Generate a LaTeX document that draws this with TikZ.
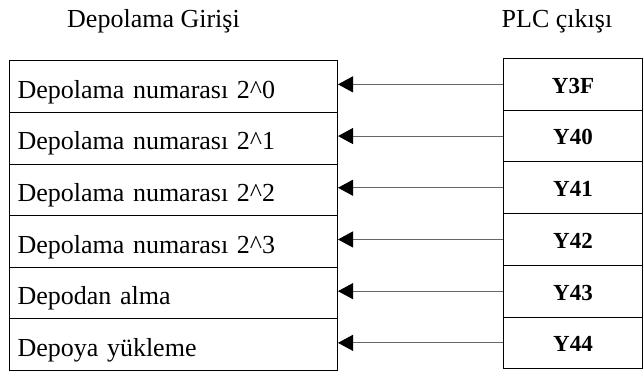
\documentclass[tikz,border=0pt]{standalone}
\usepackage{fontspec}
\setmainfont{Liberation Serif}
\usetikzlibrary{arrows.meta}

\begin{document}
\begin{tikzpicture}[x=1pt, y=-1pt,
    girisrow/.style={draw, line width=1pt, anchor=north west,
      text width=312pt, inner xsep=8pt, inner ysep=0pt, align=left,
      minimum height=51.6pt, text height=37.4pt, text depth=14.2pt,
      font=\fontsize{26}{30}\selectfont},
    cikisrow/.style={draw, line width=1pt, anchor=north west,
      minimum width=139pt, minimum height=51.7pt, inner sep=0pt,
      text height=34.7pt, text depth=17pt,
      font=\fontsize{23}{27}\selectfont\bfseries},
    baslik/.style={anchor=base, font=\fontsize{26}{30}\selectfont},
    ok/.style={draw=black!60, line width=0.9pt,
      -{Triangle[length=15pt,width=16pt,color=black]}}]
      \useasboundingbox (0,0) rectangle (643,373);

      % Headings
      \node[baslik] (giris) at (153.5,27) {Depolama Girişi};
      \node[baslik] (plc) at (557,27) {PLC çıkışı};

      % Storage inputs
      \node[girisrow] (num0) at (9,60.3) {Depolama numarası 2\^{}0};
      \node[girisrow] (num1) at (9,111.9) {Depolama numarası 2\^{}1};
      \node[girisrow] (num2) at (9,163.5) {Depolama numarası 2\^{}2};
      \node[girisrow] (num3) at (9,215.1) {Depolama numarası 2\^{}3};
      \node[girisrow] (alma) at (9,266.7) {Depodan alma};
      \node[girisrow] (yukleme) at (9,318.3) {Depoya yükleme};

      % PLC outputs
      \node[cikisrow] (y3f) at (503,58) {Y3F};
      \node[cikisrow] (y40) at (503,109.7) {Y40};
      \node[cikisrow] (y41) at (503,161.4) {Y41};
      \node[cikisrow] (y42) at (503,213.1) {Y42};
      \node[cikisrow] (y43) at (503,264.8) {Y43};
      \node[cikisrow] (y44) at (503,316.5) {Y44};

      % Output to input arrows
      \draw[ok] (y3f.west) -- (y3f.west -| num0.east);
      \draw[ok] (y40.west) -- (y40.west -| num1.east);
      \draw[ok] (y41.west) -- (y41.west -| num2.east);
      \draw[ok] (y42.west) -- (y42.west -| num3.east);
      \draw[ok] (y43.west) -- (y43.west -| alma.east);
      \draw[ok] (y44.west) -- (y44.west -| yukleme.east);
    \end{tikzpicture}
\end{document}
